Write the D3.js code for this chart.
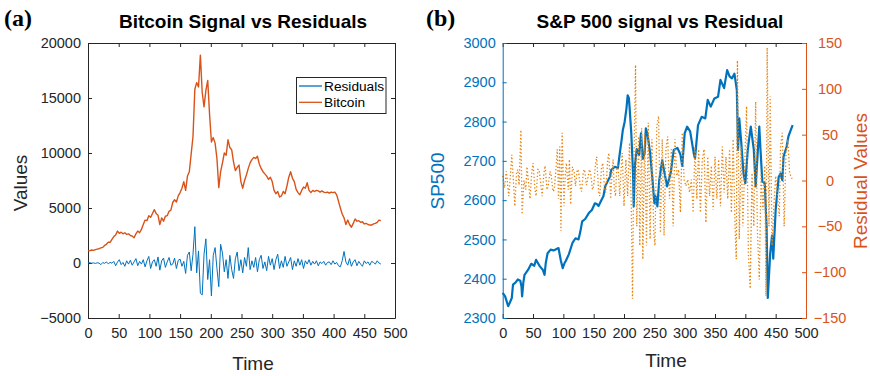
<!DOCTYPE html>
<html><head><meta charset="utf-8">
<script src="https://cdn.jsdelivr.net/npm/d3@7/dist/d3.min.js"></script>
<style>
body{margin:0;background:#fff}
svg{display:block;font-family:"Liberation Sans",Arial,Helvetica,sans-serif}
</style></head><body><svg id="c" width="870" height="376"></svg>
<script>
// ---------- DATA ----------
const xTicks = [0,50,100,150,200,250,300,350,400,450,500];
const btcYTicks = [-5000,0,5000,10000,15000,20000];
const spLeftTicks = [2300,2400,2500,2600,2700,2800,2900,3000];
const spRightTicks = [-150,-100,-50,0,50,100,150];

// Bitcoin signal, one value every 3 time steps (t = 0,3,...,477)
const btcStep = 3;
const btcV = [
 1100,1120,1180,1150,1220,1260,1300,1380,1420,1600,
 1700,1900,1880,2150,2400,2550,2900,2700,2800,2650,
 2750,2600,2650,2500,2450,2300,2650,2900,2750,3050,
 3500,3900,3850,4300,4150,4500,4850,4500,4350,3500,
 4100,3800,4250,4300,4700,4800,5500,5750,5550,6100,
 6400,6800,7400,6600,7900,8300,
 9900,11500,15800,16400,16000,18900,15500,14200,15700,16600,
 13500,11000,11400,10900,9500,6850,8300,9100,10000,9800,
 11200,10500,10300,9200,8400,8700,8900,7400,6800,7500,
 8000,8600,9100,9400,9600,9500,9700,9000,8600,8300,
 8100,7900,7600,7800,7400,6600,6300,6500,6000,6100,
 6500,6300,7000,7800,8300,7700,7400,6700,6400,6200,
 6600,6900,6800,7300,6600,6400,6600,6500,6600,6550,
 6450,6550,6450,6400,6450,6350,6450,6400,6450,6200,
 5600,5000,4450,4100,3500,3900,3500,3250,3600,4000,
 3800,3850,3700,3750,3550,3600,3500,3450,3450,3550,
 3600,3700,3900,3850];

// Bitcoin residuals, one value every 3 time steps (t = 0,3,...,477)
const resStep = 3;
const resV = [
 0,30,-20,10,-40,20,-10,-150,40,-30,100,-80,60,-20,
 150,-250,80,300,-150,50,-300,200,-100,250,-200,100,400,-250,150,-100,300,-350,200,600,
 -500,100,300,-300,550,-650,200,450,-400,100,500,-200,-100,450,-500,250,350,-300,150,-950,700,1000,
 -700,800,3300,-900,1100,-2750,-2900,800,2200,-1500,300,-3000,700,1400,-500,-2150,1700,
 900,-800,300,-1400,700,-600,-1400,400,1000,-700,300,-900,500,-300,
 1400,-600,200,-400,500,-800,300,700,-500,100,-700,600,-200,400,-600,300,800,-500,200,-400,600,-300,100,500,-600,200,-300,400,-200,300,-500,200,-100,300,
 -200,150,-100,200,-250,100,-50,150,-200,50,100,-150,200,-100,50,-250,-350,200,1050,100,
 -200,400,-300,100,300,-250,150,-100,-300,200,-50,100,-200,150,50,-100,200,0,-100];

// S&P 500 signal (time index, value)
const spT = [0,4,9,12,15,17,21,25,29,31,32,34,36,42,47,52,55,58,61,66,69,71,74,79,84,88,92,96,99,102,104,109,115,120,125,128,131,136,142,147,152,155,158,163,166,169,174,177,179,185,190,193,196,198,201,204,206,208,209,212,214,215,216,218,221,225,228,231,234,236,239,243,247,250,252,255,258,263,266,271,277,282,288,293,296,300,304,309,315,317,322,328,334,338,343,349,355,359,365,370,374,378,382,386,388,390,393,397,400,404,406,409,414,417,423,425,428,432,435,437,441,444,446,450,452,455,458,461,463,468,471,475,478];
const spV = [2364,2355,2330,2340,2351,2385,2390,2398,2395,2380,2355,2390,2410,2423,2438,2433,2448,2440,2432,2423,2410,2440,2465,2474,2472,2475,2478,2445,2427,2440,2445,2462,2491,2503,2500,2520,2546,2552,2567,2575,2592,2590,2585,2601,2610,2635,2651,2660,2677,2685,2682,2719,2753,2778,2799,2833,2867,2860,2840,2770,2700,2660,2584,2690,2730,2715,2770,2705,2720,2783,2765,2720,2651,2592,2610,2584,2650,2702,2675,2635,2670,2728,2733,2716,2687,2770,2787,2775,2719,2706,2791,2812,2808,2855,2838,2859,2863,2906,2885,2931,2915,2910,2922,2880,2728,2808,2752,2668,2643,2728,2753,2787,2728,2635,2787,2728,2647,2643,2533,2351,2465,2510,2451,2575,2609,2659,2668,2651,2711,2736,2762,2779,2791];

// S&P 500 residual (time index, value)
const spResT = [0,3,6,10,13,15,18,20,23,25,27,30,32,35,38,40,43,45,48,50,53,55,58,60,63,65,68,70,73,75,78,80,83,85,88,90,92,94,96,98,101,103,105,108,110,112,115,118,120,123,125,128,130,133,135,138,140,143,145,148,150,153,155,158,160,163,165,168,170,173,175,178,180,182,184,186,188,190,193,195,197,200,203,206,209,212,214,216,219,221,224,226,229,231,234,237,240,243,246,249,251,254,257,260,263,266,269,272,275,278,281,284,287,290,293,296,299,302,305,308,311,314,317,320,323,326,329,332,335,338,341,344,347,350,353,356,359,362,365,368,371,374,377,380,383,385,387,390,393,396,399,402,405,408,411,414,417,420,423,426,429,432,434,436,439,441,444,447,450,453,456,458,461,464,467,470,473,475,477];
const spResV = [5,-8,10,-17,8,28,-5,-28,10,12,-5,55,-37,0,-10,15,-5,-20,10,19,-8,-17,12,12,-5,-17,8,16,-10,-6,10,5,-12,-10,15,34,-20,37,-55,52,-28,5,19,-10,23,-26,15,8,-6,12,10,-8,-12,10,12,-5,1,12,8,-10,-6,18,26,-12,-17,15,19,-10,-13,22,30,-20,5,23,-10,-17,15,16,-17,10,30,-28,23,-17,41,-28,-129,8,126,-50,48,-71,57,-86,52,-71,63,-64,45,-57,-71,59,70,-57,45,-60,34,48,-20,34,-50,45,5,12,-35,52,1,-6,1,-13,1,-35,37,-20,34,-35,23,34,-46,26,-17,16,-32,26,-20,23,-28,37,-13,26,-20,34,-35,45,-50,-86,131,-64,37,-50,19,81,-79,-118,8,-50,86,-57,-108,8,-32,16,-126,145,-50,92,-71,-28,5,-17,-39,37,52,-50,30,45,8,5,2];

// ---------- STYLE ----------
const BLUE = "#0072BD", ORANGE = "#D95319", DOT = "#E8820C", AX = "#262626";
const svg = d3.select("#c");
svg.append("rect").attr("width",870).attr("height",376).attr("fill","#fff");

function styleAxis(g, color){
  g.selectAll("path.domain").attr("stroke", color).attr("stroke-width",1);
  g.selectAll(".tick line").attr("stroke", color).attr("stroke-width",1);
  g.selectAll(".tick text").attr("fill", color).style("font-size","14.5px")
   .style("font-family",'"Liberation Sans",Arial,Helvetica,sans-serif');
}
const fmt = d3.format("d");

// ---------- PANEL A ----------
const aL=88, aR=395, T=43, B=318;
const xa = d3.scaleLinear().domain([0,500]).range([aL,aR]);
const ya = d3.scaleLinear().domain([-5000,20000]).range([B,T]);

const ga = svg.append("g");
ga.append("g").attr("transform",`translate(0,${B})`)
  .call(d3.axisBottom(xa).tickValues(xTicks).tickSizeInner(-4).tickSizeOuter(0).tickPadding(10).tickFormat(fmt))
  .call(g=>styleAxis(g,AX));
ga.append("g").attr("transform",`translate(0,${T})`)
  .call(d3.axisTop(xa).tickValues(xTicks).tickSizeInner(-4).tickSizeOuter(0).tickFormat(""))
  .call(g=>styleAxis(g,AX));
ga.append("g").attr("transform",`translate(${aL},0)`)
  .call(d3.axisLeft(ya).tickValues(btcYTicks).tickSizeInner(-4).tickSizeOuter(0).tickPadding(7).tickFormat(fmt))
  .call(g=>styleAxis(g,AX));
ga.append("g").attr("transform",`translate(${aR},0)`)
  .call(d3.axisRight(ya).tickValues(btcYTicks).tickSizeInner(-4).tickSizeOuter(0).tickFormat(""))
  .call(g=>styleAxis(g,AX));

const btcData = btcV.map((v,i)=>[i*btcStep,v]);
const resData = resV.map((v,i)=>[i*resStep,v]);
const lineA = d3.line().x(d=>xa(d[0])).y(d=>ya(d[1]));
ga.append("path").datum(resData).attr("d",lineA).attr("fill","none")
  .attr("stroke",BLUE).attr("stroke-width",1).attr("stroke-linejoin","round");
ga.append("path").datum(btcData).attr("d",lineA).attr("fill","none")
  .attr("stroke",ORANGE).attr("stroke-width",1.4).attr("stroke-linejoin","round");

// legend
const lg = ga.append("g");
lg.append("rect").attr("x",296.5).attr("y",77.5).attr("width",89.5).attr("height",36)
  .attr("fill","#fff").attr("stroke",AX).attr("stroke-width",1);
[["Residuals",BLUE,86],["Bitcoin",ORANGE,102.3]].forEach(([lab,col,yy])=>{
  lg.append("line").attr("x1",299).attr("x2",322).attr("y1",yy).attr("y2",yy).attr("stroke",col).attr("stroke-width",1.3);
  lg.append("text").attr("x",324).attr("y",yy+5).attr("fill","#000").style("font-size","13.7px").text(lab);
});

// titles / labels
svg.append("text").attr("x",4).attr("y",26).style("font-family",'"Liberation Serif","Times New Roman",serif')
  .style("font-weight","bold").style("font-size","24px").text("(a)");
svg.append("text").attr("x",243).attr("y",28).attr("text-anchor","middle")
  .style("font-weight","bold").style("font-size","19px").text("Bitcoin Signal vs Residuals");
svg.append("text").attr("transform","translate(27,183) rotate(-90)").attr("text-anchor","middle")
  .attr("fill",AX).style("font-size","19px").text("Values");
svg.append("text").attr("x",253).attr("y",370).attr("text-anchor","middle")
  .attr("fill",AX).style("font-size","19px").text("Time");

// ---------- PANEL B ----------
const bL=502.7, bR=806;
const xb = d3.scaleLinear().domain([0,500]).range([bL,bR]);
const ybL = d3.scaleLinear().domain([2300,3000]).range([B,T]);
const ybR = d3.scaleLinear().domain([-150,150]).range([B,T]);

const gb = svg.append("g");
gb.append("g").attr("transform",`translate(0,${B})`)
  .call(d3.axisBottom(xb).tickValues(xTicks).tickSizeInner(-4).tickSizeOuter(0).tickPadding(10).tickFormat(fmt))
  .call(g=>styleAxis(g,AX));
gb.append("g").attr("transform",`translate(0,${T})`)
  .call(d3.axisTop(xb).tickValues(xTicks).tickSizeInner(-4).tickSizeOuter(0).tickFormat(""))
  .call(g=>styleAxis(g,AX));

const spRes = spResT.map((t,i)=>[t,spResV[i]]);
const spSig = spT.map((t,i)=>[t,spV[i]]);
gb.append("path").datum(spSig)
  .attr("d",d3.line().x(d=>xb(d[0])).y(d=>ybL(d[1])))
  .attr("fill","none").attr("stroke",BLUE).attr("stroke-width",2.2).attr("stroke-linejoin","round");
gb.append("path").datum(spRes)
  .attr("d",d3.line().x(d=>xb(d[0])).y(d=>ybR(d[1])))
  .attr("fill","none").attr("stroke",DOT).attr("stroke-width",1.3).attr("stroke-dasharray","1.3,2.2");

gb.append("g").attr("transform",`translate(${bL},0)`)
  .call(d3.axisLeft(ybL).tickValues(spLeftTicks).tickSizeInner(-4).tickSizeOuter(0).tickPadding(7).tickFormat(fmt))
  .call(g=>styleAxis(g,BLUE));
const gr = gb.append("g").attr("transform",`translate(${bR},0)`)
  .call(d3.axisRight(ybR).tickValues(spRightTicks).tickSizeInner(-4).tickSizeOuter(0).tickFormat(fmt))
  .call(g=>styleAxis(g,ORANGE));
gr.selectAll(".tick text").attr("x",24).attr("text-anchor","middle");

svg.append("text").attr("x",426).attr("y",26).style("font-family",'"Liberation Serif","Times New Roman",serif')
  .style("font-weight","bold").style("font-size","24px").text("(b)");
svg.append("text").attr("x",660).attr("y",28).attr("text-anchor","middle")
  .style("font-weight","bold").style("font-size","19px").text("S&P 500 signal vs Residual");
svg.append("text").attr("transform","translate(444,181) rotate(-90)").attr("text-anchor","middle")
  .attr("fill",BLUE).style("font-size","19px").text("SP500");
svg.append("text").attr("transform","translate(867,181) rotate(-90)").attr("text-anchor","middle")
  .attr("fill",ORANGE).style("font-size","19px").text("Residual Values");
svg.append("text").attr("x",666).attr("y",367).attr("text-anchor","middle")
  .attr("fill",AX).style("font-size","19px").text("Time");
</script></body></html>
